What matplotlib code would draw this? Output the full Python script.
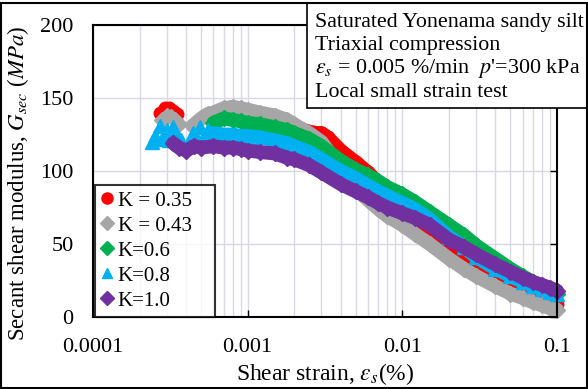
import matplotlib
matplotlib.use("Agg")
import matplotlib.pyplot as plt
from matplotlib.patches import Rectangle
from matplotlib.lines import Line2D
from matplotlib.ticker import LogLocator, NullFormatter, FixedLocator

plt.rcParams['font.family'] = ['Liberation Serif', 'DejaVu Serif']
plt.rcParams['mathtext.fontset'] = 'stix'

# shear strain (%) and secant shear modulus (MPa)
x_035 = [0.00027, 0.00029, 0.00031, 0.00033, 0.00035, 0.0006, 0.0007, 0.0008, 0.001, 0.0012,
         0.0015, 0.0018, 0.002, 0.0025, 0.0028, 0.003, 0.0033, 0.004, 0.005, 0.006, 0.007,
         0.008, 0.01, 0.012, 0.015, 0.02, 0.025, 0.03, 0.04, 0.05, 0.06, 0.07, 0.08, 0.09, 0.1]
g_035 = [140, 143, 143, 141, 139, 139, 137, 137, 136, 135,
         133, 131, 130, 127, 126, 126, 123, 114, 106, 99, 92,
         85, 74, 65, 55, 45, 38, 33, 26, 21, 17, 15, 13, 11, 9]

x_043 = [0.00028, 0.0003, 0.00032, 0.00034, 0.00036, 0.00044, 0.0005, 0.00055, 0.0006, 0.0007,
         0.0008, 0.0009, 0.001, 0.0012, 0.0015, 0.0018, 0.002, 0.0025, 0.003, 0.004, 0.005,
         0.006, 0.007, 0.008, 0.01, 0.012, 0.015, 0.02, 0.025, 0.03, 0.04, 0.05, 0.06, 0.07,
         0.08, 0.09, 0.1]
g_043 = [135, 138, 137, 135, 132, 131, 136, 139, 140, 143,
         144, 143, 142, 140, 138, 135, 132, 126, 120, 102, 88,
         80, 74, 69, 63, 57, 50, 40, 33, 28, 21, 16, 13, 10,
         8, 6, 5]

x_06 = [0.0006, 0.0007, 0.0008, 0.0009, 0.001, 0.0012, 0.0015, 0.0018, 0.002, 0.0025,
        0.003, 0.004, 0.005, 0.006, 0.007, 0.008, 0.01, 0.012, 0.015, 0.02, 0.025, 0.03,
        0.04, 0.05, 0.06, 0.07, 0.08, 0.09, 0.1]
g_06 = [133, 136, 135, 134, 133, 132, 130, 128, 126, 122,
        117, 107, 101, 97, 93, 89, 84, 79, 72, 63, 56, 49,
        40, 33, 28, 24, 21, 18, 16]

x_08 = [0.00024, 0.00025, 0.00027, 0.00028, 0.0003, 0.00031, 0.00033, 0.00035, 0.00037,
        0.00042, 0.00044, 0.00046, 0.00049, 0.00052, 0.00055, 0.00058,
        0.0006, 0.0007, 0.0008, 0.0009, 0.001, 0.0012, 0.0015, 0.0018, 0.002, 0.0025,
        0.003, 0.004, 0.005, 0.006, 0.007, 0.008, 0.01, 0.012, 0.015, 0.02, 0.025, 0.03,
        0.04, 0.05, 0.06, 0.07, 0.08, 0.09, 0.1]
g_08 = [120, 124, 131, 122, 128, 121, 130, 125, 121,
        119, 126, 123, 130, 124, 128, 125,
        126, 125, 125, 124, 124, 123, 121, 119, 117, 113,
        108, 100, 95, 90, 86, 83, 78, 74, 67, 55, 48, 41,
        33, 28, 24, 21, 19, 17, 16]

x_10 = [0.00033, 0.00036, 0.0004, 0.00045, 0.0005, 0.0006, 0.0007, 0.0008, 0.0009, 0.001,
        0.0012, 0.0015, 0.0018, 0.002, 0.0025, 0.003, 0.004, 0.005, 0.006, 0.007, 0.008,
        0.01, 0.012, 0.015, 0.02, 0.025, 0.03, 0.04, 0.05, 0.06, 0.07, 0.08, 0.09, 0.1]
g_10 = [119, 116, 114, 117, 116, 117, 116, 116, 115, 114,
        113, 112, 109, 108, 104, 99, 91, 86, 82, 78, 75,
        71, 68, 63, 53, 48, 43, 36, 31, 27, 24, 22, 20, 18]

labels = ['K = 0.35', 'K = 0.43', 'K=0.6', 'K=0.8', 'K=1.0']
colors = ['#FF0000', '#A6A6A6', '#00B050', '#00B0F0', '#7030A0']
markers = ['o', 'D', 'D', '^', 'D']
sizes = [9, 8, 8, 10, 8]
# index where the scattered start turns into a solid band
band_from = [5, 5, 0, 16, 0]

series = [(x_035, g_035), (x_043, g_043), (x_06, g_06), (x_08, g_08), (x_10, g_10)]

fig = plt.figure(figsize=(5.88, 3.89), dpi=100)
ax = fig.add_axes([0.1582, 0.1851, 0.7891, 0.7506])

for (xs, gs), c, m, s, b in zip(series, colors, markers, sizes, band_from):
    ax.plot(xs[b:], gs[b:], '-', color=c, lw=10, solid_capstyle='round', zorder=2,
            clip_on=False)
    ax.plot(xs, gs, ls='none', marker=m, ms=s, color=c, mec=c, zorder=2, clip_on=False)

ax.set_xscale('log')
ax.set_xlim(0.0001, 0.1)
ax.set_ylim(0, 200)
ax.xaxis.set_major_locator(FixedLocator([0.0001, 0.001, 0.01, 0.1]))
ax.set_xticklabels(['0.0001', '0.001', '0.01', '0.1'])
ax.xaxis.set_minor_locator(LogLocator(base=10, subs=range(2, 10)))
ax.xaxis.set_minor_formatter(NullFormatter())
ax.set_yticks([0, 50, 100, 150, 200])

ax.grid(True, which='both', color='#D9D9E3', lw=1, zorder=0)
ax.set_axisbelow(True)
for sp in ax.spines.values():
    sp.set_linewidth(1.5)
    sp.set_color('black')

ax.tick_params(axis='x', which='major', direction='in', length=5, width=1, labelsize=16, pad=15)
ax.tick_params(axis='x', which='minor', length=0)
ax.tick_params(axis='y', which='major', direction='in', length=5, width=1, labelsize=16,
               pad=14, left=False, right=True, labelleft=True, labelright=False)

ax.set_xlabel('Shear strain, $\\varepsilon_s$(%)', fontsize=17, labelpad=3)
ax.set_ylabel('Secant shear modulus, $G_{sec}$ ($\\mathit{MPa}$)', fontsize=16.5)
ax.yaxis.set_label_coords(-0.133, 0.457)

handles = [Line2D([], [], ls='none', marker=m, color=c, ms=8 if m == 'o' else 7)
           for c, m in zip(colors, markers)]
leg = ax.legend(handles, labels, loc='lower left', bbox_to_anchor=(0.004, 0.0, 0.259, 0.44),
                mode='expand', borderaxespad=0, fontsize=15, frameon=True, fancybox=False,
                handlelength=0.6, handletextpad=0.2, labelspacing=0.26,
                borderpad=0.3)
leg.get_frame().set_edgecolor('black')
leg.get_frame().set_linewidth(1.5)
leg.set_zorder(5)

# info box at the top right
fig.add_artist(Rectangle((307 / 588, 1 - 108 / 389), 280 / 588, 105 / 389,
                         transform=fig.transFigure, facecolor='white',
                         edgecolor='black', lw=1.2, zorder=5))
info = ['Saturated Yonenama sandy silt',
        'Triaxial compression',
        "$\\varepsilon_s$ = 0.005 %/min  $p$'=300 kPa",
        'Local small strain test']
for i, line in enumerate(info):
    fig.text(315 / 588, 1 - (22 + 23.5 * i) / 389, line, fontsize=15.8,
             va='center', ha='left', zorder=6)

# outer frame of the figure
fig.add_artist(Rectangle((1 / 588, 1 / 389), 586 / 588, 385 / 389,
                         transform=fig.transFigure, fill=False,
                         edgecolor='black', lw=1.5, zorder=7))

fig.savefig('out.png', dpi=100)
